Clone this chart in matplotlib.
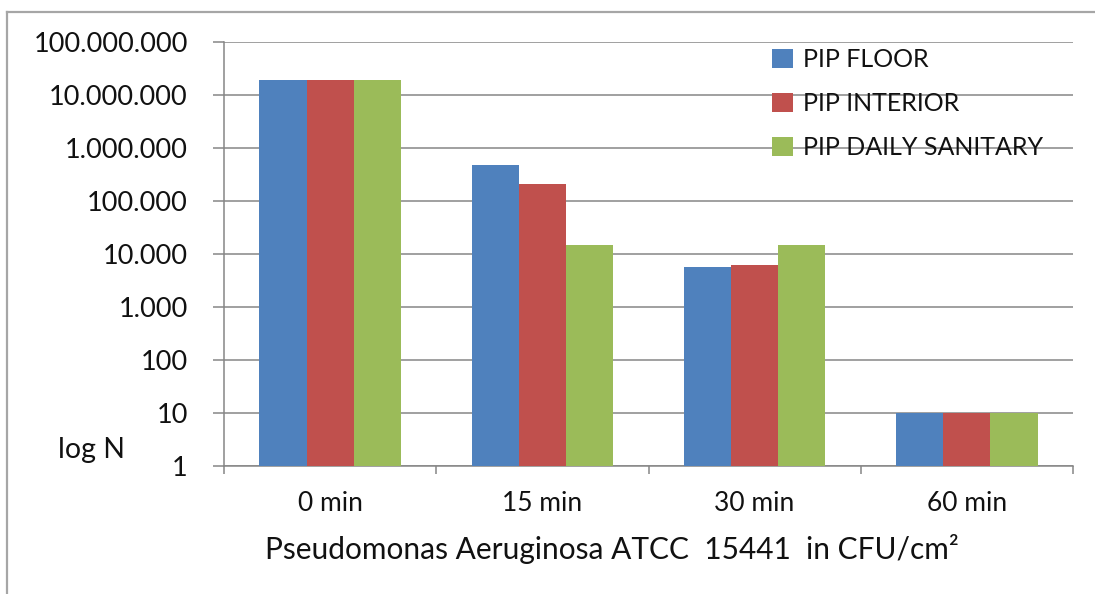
import numpy as np
import matplotlib.pyplot as plt
from matplotlib.lines import Line2D

# data (CFU/cm2)
categories = ['0 min', '15 min', '30 min', '60 min']
pip_floor = [1.9e7, 4.8e5, 5.8e3, 10]
pip_interior = [1.9e7, 2.1e5, 6.3e3, 10]
pip_sanitary = [1.9e7, 1.5e4, 1.5e4, 10]
series_names = ['PIP FLOOR', 'PIP INTERIOR', 'PIP DAILY SANITARY']
y_ticks = [1, 10, 100, 1e3, 1e4, 1e5, 1e6, 1e7, 1e8]

colors = ['#4F81BD', '#C0504D', '#9BBB59']
grid_col = '#868686'
text_col = '#111111'

plt.rcParams['font.family'] = ['Lato', 'DejaVu Sans']

fig = plt.figure(figsize=(10.95, 5.94), dpi=100)
ax = fig.add_axes([224/1095, 1 - 466/594, (1073 - 224)/1095, (466 - 42)/594])

x = np.arange(len(categories))
w = 0.222
for i, (vals, name) in enumerate(zip([pip_floor, pip_interior, pip_sanitary], series_names)):
	ax.bar(x + (i - 1) * w, vals, width=w, color=colors[i], label=name, zorder=3)

ax.set_yscale('log')
ax.set_ylim(1, 1e8)
ax.set_xlim(-0.5, len(categories) - 0.5)

#y ticks with dot thousands separator
ax.set_yticks(y_ticks)
ax.set_yticklabels(["{:,}".format(int(v)).replace(',', '.') for v in y_ticks])
ax.yaxis.set_minor_locator(plt.NullLocator())
ax.tick_params(axis='y', which='major', length=8, width=1.1, color=grid_col,
	labelsize=19.5, labelcolor=text_col, pad=18)

#category labels in the middle, ticks at boundaries
ax.set_xticks(x)
ax.set_xticklabels(categories)
ax.set_xticks(np.arange(-0.5, len(categories), 1.0), minor=True)
ax.tick_params(axis='x', which='major', length=0, labelsize=19, labelcolor=text_col, pad=18)
ax.tick_params(axis='x', which='minor', length=6, width=1.1, color=grid_col)

ax.grid(axis='y', color=grid_col, linewidth=1.1, zorder=0)
ax.set_axisbelow(True)
for s in ['top', 'right']:
	ax.spines[s].set_visible(False)
for s in ['left', 'bottom']:
	ax.spines[s].set_color(grid_col)
	ax.spines[s].set_linewidth(1.1)

fig.text(612/1095, 1 - 549/594, 'Pseudomonas Aeruginosa ATCC  15441  in CFU/cm²',
	ha='center', va='center', fontsize=21.5, color=text_col)
fig.text(92/1095, 1 - 450/594, 'log N', ha='center', va='center', fontsize=20.5, color=text_col)

leg = ax.legend(loc='upper left', bbox_to_anchor=(772/1095, 1 - 48/594), bbox_transform=fig.transFigure,
	frameon=False, fontsize=18, handlelength=0.84, handleheight=0.8, handletextpad=0.4,
	labelspacing=0.84, borderpad=0, borderaxespad=0)
for t in leg.get_texts():
	t.set_color(text_col)

#outer border (top and left only visible)
fig.add_artist(Line2D([7/1095, 7/1095], [0, 1 - 12/594], transform=fig.transFigure, color='#a6a6a6', linewidth=1.6))
fig.add_artist(Line2D([7/1095, 1], [1 - 12/594, 1 - 12/594], transform=fig.transFigure, color='#a6a6a6', linewidth=1.6))

fig.savefig('out.png', dpi=100)
